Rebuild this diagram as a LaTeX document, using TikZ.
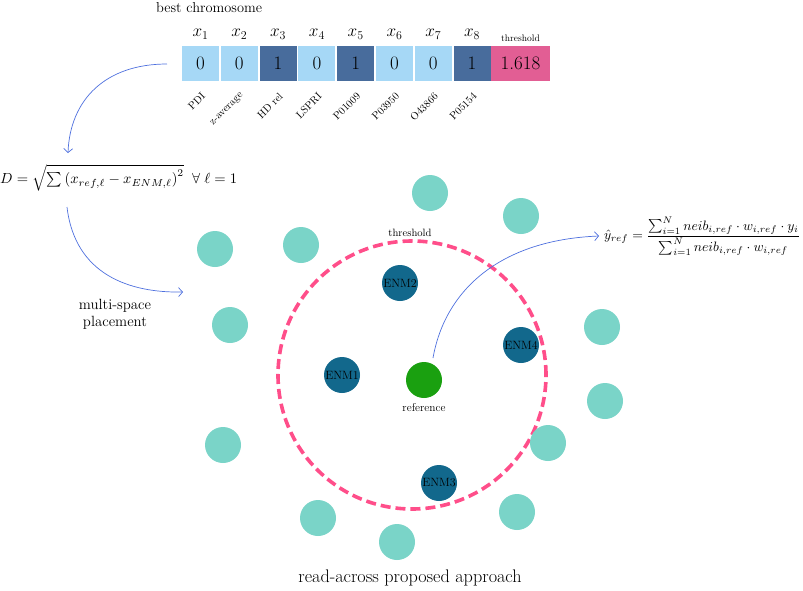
\documentclass[tikz,border=0pt]{standalone}
\usepackage{amsmath}
\usepackage{graphicx}
\usetikzlibrary{arrows.meta}
\definecolor{lightbox}{RGB}{166,216,246}
\definecolor{darkbox}{RGB}{72,108,156}
\definecolor{pinkbox}{RGB}{226,94,148}
\definecolor{tealc}{RGB}{122,212,200}
\definecolor{enmc}{RGB}{18,104,140}
\definecolor{refc}{RGB}{26,160,16}
\definecolor{dashpink}{RGB}{255,78,138}
\definecolor{arrowblue}{RGB}{78,112,222}
\tikzset{
  genebox/.style={minimum width=37pt,minimum height=35pt,inner sep=0pt,font=\fontsize{19}{20}\selectfont},
  lightgene/.style={genebox,fill=lightbox},
  darkgene/.style={genebox,fill=darkbox},
  xlabel/.style={font=\fontsize{18}{20}\selectfont,inner sep=0pt},
  featlabel/.style={font=\fontsize{10.5}{12}\selectfont,rotate=45,anchor=east,inner sep=0pt},
  tealcirc/.style={circle,fill=tealc,minimum size=36pt,inner sep=0pt},
  enmcirc/.style={circle,fill=enmc,minimum size=36pt,inner sep=0pt,font=\fontsize{12}{12}\selectfont},
  refcirc/.style={circle,fill=refc,minimum size=36pt,inner sep=0pt},
  curvearrow/.style={draw=arrowblue,line width=0.7pt,-{Straight Barb[length=4pt,width=9pt]}},
}
\begin{document}
\begin{tikzpicture}[x=1pt,y=-1pt]
\useasboundingbox (0,0) rectangle (803,590);

% title
\node[font=\fontsize{14.4}{16}\selectfont,anchor=west,inner sep=0pt] (title) at (156,8) {best chromosome};

% chromosome boxes
\node[lightgene] (b1) at (200.5,63.5) {0};
\node[lightgene] (b2) at (239.3,63.5) {0};
\node[darkgene]  (b3) at (278.1,63.5) {1};
\node[lightgene] (b4) at (316.9,63.5) {0};
\node[darkgene]  (b5) at (355.7,63.5) {1};
\node[lightgene] (b6) at (394.5,63.5) {0};
\node[lightgene] (b7) at (433.3,63.5) {0};
\node[darkgene]  (b8) at (472.1,63.5) {1};
\node[genebox,fill=pinkbox,minimum width=59pt] (bt) at (520.5,63.5) {1.618};

% x labels
\foreach \i in {1,...,8}{
  \node[xlabel] (x\i) at ([yshift=29pt]b\i.center) {$x_{\i}$};
}
\node[font=\fontsize{9.5}{11}\selectfont,inner sep=0pt] (thlab) at (520.5,38) {threshold};

% feature labels
\node[featlabel] (f1) at ([xshift=3pt,yshift=-31pt]b1.center) {PDI};
\node[featlabel] (f2) at ([xshift=3pt,yshift=-31pt]b2.center) {z-average};
\node[featlabel] (f3) at ([xshift=3pt,yshift=-31pt]b3.center) {HD rel};
\node[featlabel] (f4) at ([xshift=3pt,yshift=-31pt]b4.center) {LSPRI};
\node[featlabel] (f5) at ([xshift=3pt,yshift=-31pt]b5.center) {P01009};
\node[featlabel] (f6) at ([xshift=3pt,yshift=-31pt]b6.center) {P03950};
\node[featlabel] (f7) at ([xshift=3pt,yshift=-31pt]b7.center) {O43866};
\node[featlabel] (f8) at ([xshift=3pt,yshift=-31pt]b8.center) {P05154};

% distance formula
\node[anchor=west,inner sep=0pt] (dform) at (0,178) {\resizebox{237pt}{!}{$D=\sqrt{\sum\left(x_{ref,\ell}-x_{ENM,\ell}\right)^2}\;\;\forall\;\ell=1$}};

% arrow 1
\coordinate (a1s) at (167,64);
\coordinate (a1e) at (68,153);
\draw[curvearrow] (a1s) .. controls (105,64) and (70,100) .. (a1e);

% arrow 2
\coordinate (a2s) at (67,207);
\coordinate (a2e) at (183,292);
\draw[curvearrow] (a2s) .. controls (75,275) and (130,293) .. (a2e);

\node[font=\fontsize{14.8}{17}\selectfont,align=center,inner sep=0pt] (msp) at (115,314) {multi-space\\placement};

% threshold circle
\node[circle,draw=dashpink,line width=3.6pt,dash pattern=on 10pt off 5pt,minimum size=268pt,inner sep=0pt] (thc) at (412,375) {};
\node[font=\fontsize{10.6}{12}\selectfont,inner sep=0pt] (thc-lab) at (410,233) {threshold};

% teal circles
\node[tealcirc] (t1) at (430,193) {};
\node[tealcirc] (t2) at (521,216) {};
\node[tealcirc] (t3) at (215,249) {};
\node[tealcirc] (t4) at (301,245) {};
\node[tealcirc] (t5) at (230,325) {};
\node[tealcirc] (t6) at (602,327) {};
\node[tealcirc] (t7) at (605,401) {};
\node[tealcirc] (t8) at (223,445) {};
\node[tealcirc] (t9) at (548,443) {};
\node[tealcirc] (t10) at (517,512) {};
\node[tealcirc] (t11) at (318,518) {};
\node[tealcirc] (t12) at (397,542) {};

% ENM circles
\node[enmcirc] (e2) at (400,283) {ENM2};
\node[enmcirc] (e4) at (521,345) {ENM4};
\node[enmcirc] (e1) at (342,375) {ENM1};
\node[enmcirc] (e3) at (439,483) {ENM3};
\node[refcirc] (ref) at (424,380) {};
\node[font=\fontsize{11.4}{12}\selectfont,inner sep=0pt] (reflab) at (424,408) {reference};

% prediction formula
\node[anchor=west,inner sep=0pt] (yform) at (604,236) {\resizebox{196pt}{!}{$\hat{y}_{ref}=\dfrac{\sum_{i=1}^{N} neib_{i,ref}\cdot w_{i,ref}\cdot y_i}{\sum_{i=1}^{N} neib_{i,ref}\cdot w_{i,ref}}$}};

% arrow 3
\coordinate (a3s) at (433,358);
\draw[curvearrow] (a3s) .. controls (445,290) and (500,240) .. ([xshift=-5pt]yform.west);

% caption
\node[font=\fontsize{18.2}{20}\selectfont,inner sep=0pt] (cap) at (410,578) {read-across proposed approach};
\end{tikzpicture}
\end{document}
